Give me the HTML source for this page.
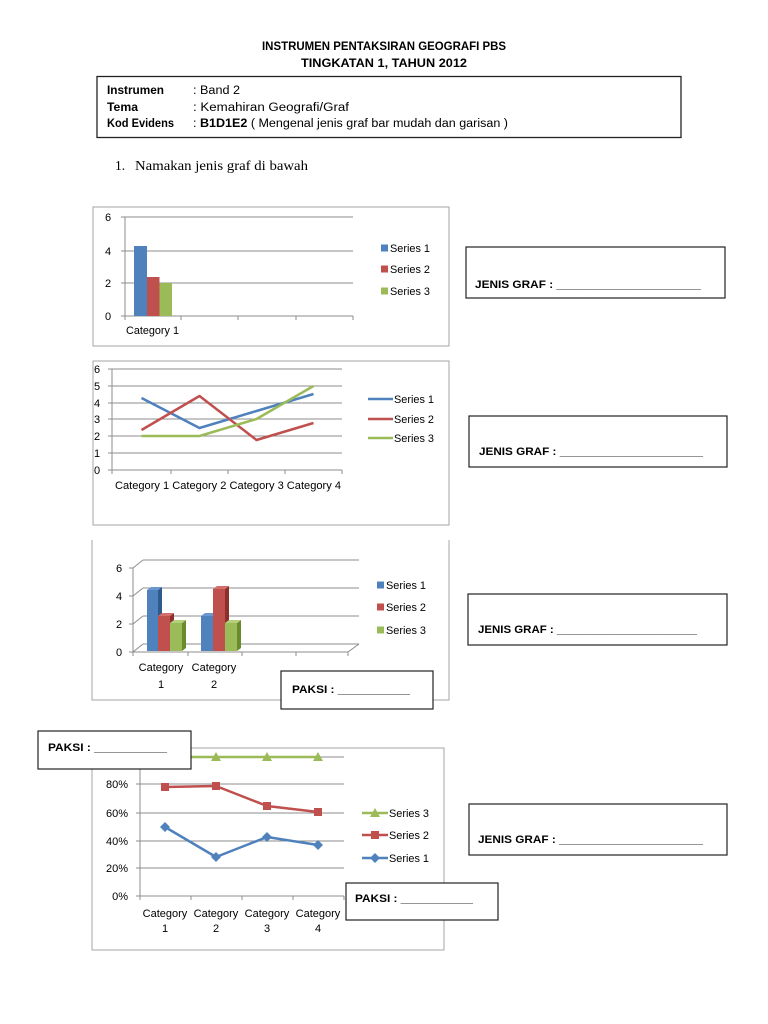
<!DOCTYPE html>
<html><head><meta charset="utf-8"><style>
html,body{margin:0;padding:0;background:#fff;}
svg{display:block;}
text{font-family:"Liberation Sans",sans-serif;fill:#000;}
.b{font-weight:bold;}
.t{font-size:11px;}
</style></head><body>
<svg width="768" height="1024" viewBox="0 0 768 1024" xmlns="http://www.w3.org/2000/svg">
<rect width="768" height="1024" fill="#fff"/>
<!-- Header -->
<text x="384" y="50" class="b" font-size="12" text-anchor="middle" textLength="244" lengthAdjust="spacingAndGlyphs">INSTRUMEN PENTAKSIRAN GEOGRAFI PBS</text>
<text x="384" y="67" class="b" font-size="11.5" text-anchor="middle" textLength="166" lengthAdjust="spacingAndGlyphs">TINGKATAN 1, TAHUN 2012</text>
<rect x="97" y="76.5" width="584" height="61" fill="none" stroke="#222" stroke-width="1.3"/>
<text x="107" y="94" class="b" font-size="11.5" textLength="57" lengthAdjust="spacingAndGlyphs">Instrumen</text>
<text x="107" y="111" class="b" font-size="11.5" textLength="31" lengthAdjust="spacingAndGlyphs">Tema</text>
<text x="107" y="127" class="b" font-size="11.5" textLength="67" lengthAdjust="spacingAndGlyphs">Kod Evidens</text>
<text x="193" y="94" font-size="11.5" textLength="47" lengthAdjust="spacingAndGlyphs">: Band 2</text>
<text x="193" y="111" font-size="11.5" textLength="156" lengthAdjust="spacingAndGlyphs">: Kemahiran Geografi/Graf</text>
<text x="193" y="127" font-size="11.5" textLength="315" lengthAdjust="spacingAndGlyphs">: <tspan font-weight="bold">B1D1E2</tspan> ( Mengenal jenis graf bar mudah dan garisan )</text>
<text x="115" y="170" font-size="13.5" style="font-family:'Liberation Serif',serif">1.</text>
<text x="135" y="170" font-size="13.5" style="font-family:'Liberation Serif',serif" textLength="173" lengthAdjust="spacingAndGlyphs">Namakan jenis graf di bawah</text>

<!-- Chart 1 -->
<rect x="93" y="207" width="356" height="139" fill="#fff" stroke="#a6a6a6" stroke-width="1"/>
<g stroke="#8c8c8c" stroke-width="1">
<line x1="125" y1="217" x2="353" y2="217"/>
<line x1="125" y1="251" x2="353" y2="251"/>
<line x1="125" y1="283" x2="353" y2="283"/>
<line x1="121" y1="316" x2="353" y2="316"/>
<line x1="125" y1="217" x2="125" y2="316"/>
<line x1="121" y1="217" x2="125" y2="217"/><line x1="121" y1="251" x2="125" y2="251"/><line x1="121" y1="283" x2="125" y2="283"/>
<line x1="181" y1="316" x2="181" y2="320"/><line x1="238" y1="316" x2="238" y2="320"/><line x1="296" y1="316" x2="296" y2="320"/><line x1="353" y1="316" x2="353" y2="320"/><line x1="125" y1="316" x2="125" y2="320"/>
</g>
<rect x="134" y="246" width="13" height="70" fill="#4F81BD"/>
<rect x="147" y="277" width="12.5" height="39" fill="#C0504D"/>
<rect x="159.5" y="283" width="12.5" height="33" fill="#9BBB59"/>
<g class="t" text-anchor="middle">
<text x="108" y="221">6</text><text x="108" y="255">4</text><text x="108" y="287">2</text><text x="108" y="320">0</text>
</g>
<text x="126" y="334" class="t" textLength="53" lengthAdjust="spacingAndGlyphs">Category 1</text>
<rect x="381" y="244.5" width="7" height="7" fill="#4F81BD"/>
<rect x="381" y="265.5" width="7" height="7" fill="#C0504D"/>
<rect x="381" y="287.5" width="7" height="7" fill="#9BBB59"/>
<text x="390" y="252" class="t" textLength="40" lengthAdjust="spacingAndGlyphs">Series 1</text>
<text x="390" y="273" class="t" textLength="40" lengthAdjust="spacingAndGlyphs">Series 2</text>
<text x="390" y="295" class="t" textLength="40" lengthAdjust="spacingAndGlyphs">Series 3</text>

<!-- Chart 2 -->
<rect x="93" y="361" width="356" height="164" fill="#fff" stroke="#a6a6a6" stroke-width="1"/>
<g stroke="#8c8c8c" stroke-width="1">
<line x1="108" y1="369" x2="342" y2="369"/>
<line x1="108" y1="386" x2="342" y2="386"/>
<line x1="108" y1="403" x2="342" y2="403"/>
<line x1="108" y1="419" x2="342" y2="419"/>
<line x1="108" y1="436" x2="342" y2="436"/>
<line x1="108" y1="453" x2="342" y2="453"/>
<line x1="108" y1="470" x2="342" y2="470"/>
<line x1="112" y1="369" x2="112" y2="474"/>
<line x1="171" y1="470" x2="171" y2="474"/><line x1="228" y1="470" x2="228" y2="474"/><line x1="285" y1="470" x2="285" y2="474"/><line x1="342" y1="470" x2="342" y2="474"/>
</g>
<g fill="none" stroke-width="2.5" stroke-linejoin="round">
<polyline points="141.5,398 199.5,428 256.5,411 313.5,394" stroke="#4F81BD"/>
<polyline points="141.5,430 199.5,396 256.5,440 313.5,423" stroke="#C0504D"/>
<polyline points="141.5,436 199.5,436 256.5,419 313.5,386" stroke="#9BBB59"/>
</g>
<g class="t" text-anchor="middle">
<text x="97" y="373">6</text><text x="97" y="390">5</text><text x="97" y="407">4</text><text x="97" y="423">3</text><text x="97" y="440">2</text><text x="97" y="457">1</text><text x="97" y="474">0</text>
</g>
<text x="115" y="489" class="t" textLength="226" lengthAdjust="spacingAndGlyphs">Category 1 Category 2 Category 3 Category 4</text>
<g stroke-width="2.5">
<line x1="368" y1="399" x2="393" y2="399" stroke="#4F81BD"/>
<line x1="368" y1="419" x2="393" y2="419" stroke="#C0504D"/>
<line x1="368" y1="438" x2="393" y2="438" stroke="#9BBB59"/>
</g>
<text x="394" y="403" class="t" textLength="40" lengthAdjust="spacingAndGlyphs">Series 1</text>
<text x="394" y="423" class="t" textLength="40" lengthAdjust="spacingAndGlyphs">Series 2</text>
<text x="394" y="442" class="t" textLength="40" lengthAdjust="spacingAndGlyphs">Series 3</text>

<!-- Chart 3 (3D bar) -->
<g stroke="#a6a6a6" stroke-width="1" fill="none">
<polyline points="92,540 92,700 449,700 449,540"/>
</g>
<g stroke="#8c8c8c" stroke-width="1" fill="none">
<line x1="143" y1="560" x2="359" y2="560"/>
<line x1="143" y1="588" x2="359" y2="588"/>
<line x1="143" y1="616" x2="359" y2="616"/>
<line x1="143" y1="644" x2="359" y2="644"/>
<line x1="133" y1="568" x2="143" y2="560"/>
<line x1="133" y1="596" x2="143" y2="588"/>
<line x1="133" y1="624" x2="143" y2="616"/>
<line x1="133" y1="652" x2="143" y2="644"/>
<line x1="133" y1="568" x2="133" y2="652"/>
<line x1="129" y1="568" x2="133" y2="568"/><line x1="129" y1="596" x2="133" y2="596"/><line x1="129" y1="624" x2="133" y2="624"/><line x1="129" y1="652" x2="133" y2="652"/>
<line x1="133" y1="652" x2="348" y2="652"/>
<line x1="348" y1="652" x2="359" y2="644"/>
<line x1="188" y1="652" x2="188" y2="656"/><line x1="242" y1="652" x2="242" y2="656"/><line x1="296" y1="652" x2="296" y2="656"/><line x1="348" y1="652" x2="348" y2="656"/><line x1="133" y1="652" x2="133" y2="656"/>
</g>
<g>
<polygon points="158,590 162,587 162,648 158,651" fill="#2f5a8c"/>
<polygon points="147,590 151,587 162,587 158,590" fill="#6a97cf"/>
<rect x="147" y="590" width="11" height="61" fill="#4F81BD"/>
<polygon points="170,616 174,613 174,648 170,651" fill="#8f2f2c"/>
<polygon points="158,616 162,613 174,613 170,616" fill="#d46e6b"/>
<rect x="158" y="616" width="12" height="35" fill="#C0504D"/>
<polygon points="182,623 186,620 186,648 182,651" fill="#6b8a2e"/>
<polygon points="170,623 174,620 186,620 182,623" fill="#b3d07a"/>
<rect x="170" y="623" width="12" height="28" fill="#9BBB59"/>
<polygon points="213,616 217,613 217,648 213,651" fill="#2f5a8c"/>
<polygon points="201,616 205,613 217,613 213,616" fill="#6a97cf"/>
<rect x="201" y="616" width="12" height="35" fill="#4F81BD"/>
<polygon points="225,589 229,586 229,648 225,651" fill="#8f2f2c"/>
<polygon points="213,589 217,586 229,586 225,589" fill="#d46e6b"/>
<rect x="213" y="589" width="12" height="62" fill="#C0504D"/>
<polygon points="237,623 241,620 241,648 237,651" fill="#6b8a2e"/>
<polygon points="225,623 229,620 241,620 237,623" fill="#b3d07a"/>
<rect x="225" y="623" width="12" height="28" fill="#9BBB59"/>
</g>
<g class="t" text-anchor="middle">
<text x="119" y="572">6</text><text x="119" y="600">4</text><text x="119" y="628">2</text><text x="119" y="656">0</text>
<text x="161" y="671">Category</text><text x="161" y="688">1</text>
<text x="214" y="671">Category</text><text x="214" y="688">2</text>
</g>
<rect x="377" y="581.5" width="7" height="7" fill="#4F81BD"/>
<rect x="377" y="603.5" width="7" height="7" fill="#C0504D"/>
<rect x="377" y="626.5" width="7" height="7" fill="#9BBB59"/>
<text x="386" y="589" class="t" textLength="40" lengthAdjust="spacingAndGlyphs">Series 1</text>
<text x="386" y="611" class="t" textLength="40" lengthAdjust="spacingAndGlyphs">Series 2</text>
<text x="386" y="634" class="t" textLength="40" lengthAdjust="spacingAndGlyphs">Series 3</text>
<rect x="281" y="671" width="152" height="38" fill="#fff" stroke="#222" stroke-width="1.2"/>
<text x="292" y="693" class="b t" textLength="118" lengthAdjust="spacingAndGlyphs">PAKSI : ___________</text>

<!-- Chart 4 -->
<rect x="92" y="748" width="352" height="202" fill="#fff" stroke="#a6a6a6" stroke-width="1"/>
<g stroke="#8c8c8c" stroke-width="1">
<line x1="140" y1="757" x2="344" y2="757"/>
<line x1="140" y1="784" x2="344" y2="784"/>
<line x1="140" y1="813" x2="344" y2="813"/>
<line x1="140" y1="841" x2="344" y2="841"/>
<line x1="140" y1="868" x2="344" y2="868"/>
<line x1="136" y1="896" x2="344" y2="896"/>
<line x1="140" y1="757" x2="140" y2="900"/>
<line x1="136" y1="784" x2="140" y2="784"/><line x1="136" y1="813" x2="140" y2="813"/><line x1="136" y1="841" x2="140" y2="841"/><line x1="136" y1="868" x2="140" y2="868"/>
<line x1="191" y1="896" x2="191" y2="900"/><line x1="242" y1="896" x2="242" y2="900"/><line x1="293" y1="896" x2="293" y2="900"/><line x1="344" y1="896" x2="344" y2="900"/>
</g>
<g fill="none" stroke-width="2.5" stroke-linejoin="round">
<polyline points="165,757 216,757 267,757 318,757" stroke="#9BBB59"/>
<polyline points="165,787 216,786 267,806 318,812" stroke="#C0504D"/>
<polyline points="165,827 216,857 267,837 318,845" stroke="#4F81BD"/>
</g>
<g fill="#9BBB59">
<polygon points="165,752 170,761 160,761"/><polygon points="216,752 221,761 211,761"/><polygon points="267,752 272,761 262,761"/><polygon points="318,752 323,761 313,761"/>
</g>
<g fill="#C0504D">
<rect x="161" y="783" width="8" height="8"/><rect x="212" y="782" width="8" height="8"/><rect x="263" y="802" width="8" height="8"/><rect x="314" y="808" width="8" height="8"/>
</g>
<g fill="#4F81BD">
<polygon points="165,822 170,827 165,832 160,827"/><polygon points="216,852 221,857 216,862 211,857"/><polygon points="267,832 272,837 267,842 262,837"/><polygon points="318,840 323,845 318,850 313,845"/>
</g>
<g class="t" text-anchor="end">
<text x="128" y="788">80%</text><text x="128" y="817">60%</text><text x="128" y="845">40%</text><text x="128" y="872">20%</text><text x="128" y="900">0%</text>
</g>
<g class="t" text-anchor="middle">
<text x="165" y="917">Category</text><text x="165" y="932">1</text>
<text x="216" y="917">Category</text><text x="216" y="932">2</text>
<text x="267" y="917">Category</text><text x="267" y="932">3</text>
<text x="318" y="917">Category</text><text x="318" y="932">4</text>
</g>
<g stroke-width="2.5">
<line x1="362" y1="813" x2="388" y2="813" stroke="#9BBB59"/>
<line x1="362" y1="835" x2="388" y2="835" stroke="#C0504D"/>
<line x1="362" y1="858" x2="388" y2="858" stroke="#4F81BD"/>
</g>
<polygon points="375,808 380,817 370,817" fill="#9BBB59"/>
<rect x="371" y="831" width="8" height="8" fill="#C0504D"/>
<polygon points="375,853 380,858 375,863 370,858" fill="#4F81BD"/>
<text x="389" y="817" class="t" textLength="40" lengthAdjust="spacingAndGlyphs">Series 3</text>
<text x="389" y="839" class="t" textLength="40" lengthAdjust="spacingAndGlyphs">Series 2</text>
<text x="389" y="862" class="t" textLength="40" lengthAdjust="spacingAndGlyphs">Series 1</text>

<rect x="38" y="731" width="153" height="38" fill="#fff" stroke="#222" stroke-width="1.2"/>
<text x="48" y="751" class="b t" textLength="119" lengthAdjust="spacingAndGlyphs">PAKSI : ___________</text>
<rect x="346" y="883" width="152" height="37" fill="#fff" stroke="#222" stroke-width="1.2"/>
<text x="355" y="902" class="b t" textLength="118" lengthAdjust="spacingAndGlyphs">PAKSI : ___________</text>

<!-- JENIS GRAF boxes -->
<g fill="#fff" stroke="#222" stroke-width="1.2">
<rect x="466" y="247" width="259" height="51"/>
<rect x="469" y="416" width="258" height="51"/>
<rect x="468" y="594" width="259" height="51"/>
<rect x="469" y="804" width="258" height="51"/>
</g>
<text x="475" y="288" class="b t" textLength="226" lengthAdjust="spacingAndGlyphs">JENIS GRAF : ______________________</text>
<text x="479" y="455" class="b t" textLength="224" lengthAdjust="spacingAndGlyphs">JENIS GRAF : ______________________</text>
<text x="478" y="633" class="b t" textLength="219" lengthAdjust="spacingAndGlyphs">JENIS GRAF : ______________________</text>
<text x="478" y="843" class="b t" textLength="225" lengthAdjust="spacingAndGlyphs">JENIS GRAF : ______________________</text>
</svg>
</body></html>
